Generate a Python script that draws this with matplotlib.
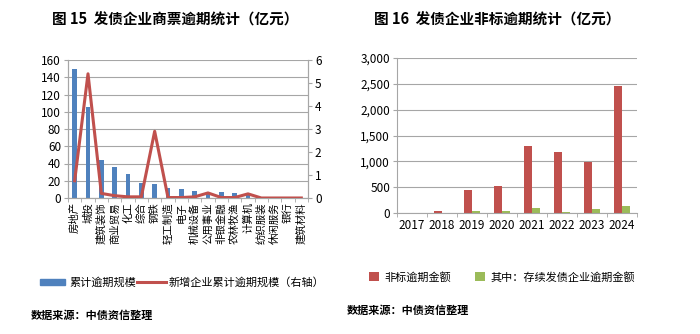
import matplotlib.pyplot as plt
import numpy as np
from matplotlib.ticker import FuncFormatter, MultipleLocator

plt.rcParams['font.family'] = ['Noto Sans CJK SC', 'DejaVu Sans']

# chart 15 data
industries = ["房地产", "城投", "建筑装饰", "商业贸易", "化工", "综合", "钢铁", "轻工制造", "电子",
              "机械设备", "公用事业", "非银金融", "农林牧渔", "计算机", "纺织服装", "休闲服务", "银行", "建筑材料"]
cum_overdue = [150, 105, 44, 36, 28, 17, 16, 12, 11, 8.5, 6, 6.5, 5.5, 4, 0.5, 0.3, 0.2, 0.1]
new_overdue = [0.75, 5.4, 0.2, 0.1, 0.05, 0.05, 2.9, 0.02, 0.02, 0.05, 0.22, 0.02, 0.02, 0.18, 0.0, 0.0, 0.0, 0.0]

# chart 16 data
years = ["2017", "2018", "2019", "2020", "2021", "2022", "2023", "2024"]
nonstd_overdue = [0, 40, 440, 520, 1300, 1185, 990, 2450]
bond_issuer_overdue = [0, 0, 30, 45, 95, 25, 70, 140]

BLUE = "#4F81BD"
RED = "#C0504D"
GREEN = "#9BBB59"
GRID = "#A6A6A6"
W, H = 700, 334

fig = plt.figure(figsize=(7, 3.34), dpi=100)


def px_axes(x0, y0, x1, y1):
    return fig.add_axes([x0 / W, 1 - y1 / H, (x1 - x0) / W, (y1 - y0) / H])


# ---- left chart ----
ax = px_axes(68, 60, 308, 198)
x = np.arange(len(industries))
ax.bar(x, cum_overdue, width=0.36, color=BLUE, zorder=2)
ax.set_xlim(-0.5, len(industries) - 0.5)
ax.set_ylim(0, 160)
ax.yaxis.set_major_locator(MultipleLocator(20))
ax.grid(axis='y', color=GRID, linewidth=0.8, zorder=0)
ax.set_xticks(x)
ax.set_xticklabels(industries, rotation=90, fontsize=7.5)
ax.set_xticks(np.arange(-0.5, len(industries)), minor=True)
ax.tick_params(axis='x', which='major', length=0, pad=3)
ax.tick_params(axis='x', which='minor', length=3, color=GRID)
ax.tick_params(axis='y', labelsize=8.5, length=3, color=GRID, pad=2)
ax.spines['top'].set_visible(False)
for s in ['left', 'right', 'bottom']:
    ax.spines[s].set_color(GRID)

ax2 = ax.twinx()
ax2.plot(x, new_overdue, color=RED, linewidth=2.2, zorder=3)
ax2.set_ylim(0, 6)
ax2.yaxis.set_major_locator(MultipleLocator(1))
ax2.tick_params(axis='y', labelsize=8.5, length=3, color=GRID, pad=2)
ax2.spines['top'].set_visible(False)
for s in ['left', 'right', 'bottom']:
    ax2.spines[s].set_color(GRID)

fig.text(175 / W, 1 - 20 / H, "图 15  发债企业商票逾期统计（亿元）", ha='center', va='center',
         fontsize=10.5, fontweight='bold')

# legend left
fig.patches.append(plt.Rectangle((40 / W, 1 - 285 / H), 25 / W, 6 / H, transform=fig.transFigure,
                                 color=BLUE, figure=fig))
fig.text(69 / W, 1 - 282 / H, "累计逾期规模", ha='left', va='center', fontsize=8)
fig.lines.append(plt.Line2D([137 / W, 166 / W], [1 - 282 / H, 1 - 282 / H], transform=fig.transFigure,
                            color=RED, linewidth=2.2))
fig.text(169 / W, 1 - 282 / H, "新增企业累计逾期规模（右轴）", ha='left', va='center', fontsize=8)
fig.text(31 / W, 1 - 315 / H, "数据来源：中债资信整理", ha='left', va='center', fontsize=8,
         fontweight='bold')

# ---- right chart ----
bx = px_axes(397, 58, 637, 213)
xr = np.arange(len(years))
bw = 0.28
bx.bar(xr - bw / 2, nonstd_overdue, width=bw, color=RED, zorder=2, label="非标逾期金额")
bx.bar(xr + bw / 2, bond_issuer_overdue, width=bw, color=GREEN, zorder=2, label="其中：存续发债企业逾期金额")
bx.set_xlim(-0.5, len(years) - 0.5)
bx.set_ylim(0, 3000)
bx.yaxis.set_major_locator(MultipleLocator(500))
bx.yaxis.set_major_formatter(FuncFormatter(lambda v, p: f"{int(v):,}"))
bx.grid(axis='y', color=GRID, linewidth=0.8, zorder=0)
bx.set_xticks(xr)
bx.set_xticklabels(years, fontsize=8.5)
bx.set_xticks(np.arange(-0.5, len(years)), minor=True)
bx.tick_params(axis='x', which='major', length=0, pad=4)
bx.tick_params(axis='x', which='minor', length=3, color=GRID)
bx.tick_params(axis='y', labelsize=8.5, length=3, color=GRID, pad=2)
for s in ['top', 'right']:
    bx.spines[s].set_visible(False)
for s in ['left', 'bottom']:
    bx.spines[s].set_color(GRID)

bx.legend(loc='center', bbox_to_anchor=(502 / W, 1 - 277 / H), bbox_transform=fig.transFigure,
          ncol=2, frameon=False, fontsize=8, handlelength=0.85, handleheight=0.85,
          columnspacing=2.2, handletextpad=0.5)

fig.text(497 / W, 1 - 20 / H, "图 16  发债企业非标逾期统计（亿元）", ha='center', va='center',
         fontsize=10.5, fontweight='bold')
fig.text(347 / W, 1 - 310 / H, "数据来源：中债资信整理", ha='left', va='center', fontsize=8,
         fontweight='bold')

fig.savefig("out.png", dpi=100)
